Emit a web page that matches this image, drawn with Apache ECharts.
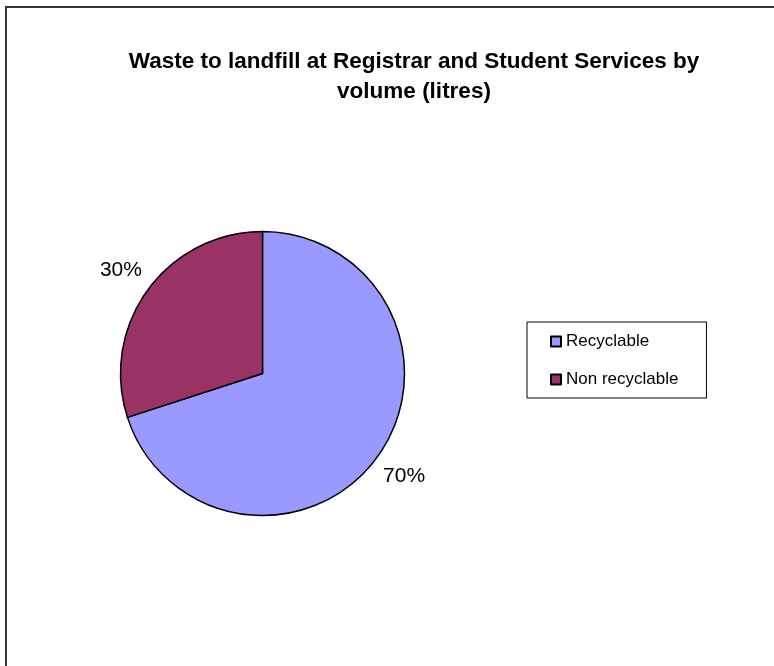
<!DOCTYPE html>
<html>
<head>
<meta charset="utf-8">
<script src="https://cdn.jsdelivr.net/npm/echarts@6/dist/echarts.min.js"></script>
<style>
  html, body { margin: 0; padding: 0; background: #fff; }
  #chart1 { width: 774px; height: 666px; }
</style>
</head>
<body>
<div id="chart1"></div>
<script>
var titleText = 'Waste to landfill at Registrar and Student Services by\nvolume (litres)';
var categories = ['Recyclable', 'Non recyclable'];
var values = [70, 30];
var colors = ['#9999FF', '#993366'];

var pieData = categories.map(function (name, i) {
    return { name: name, value: values[i], itemStyle: { color: colors[i] } };
});

var dom = document.getElementById('chart1');
var myChart = echarts.init(dom);

myChart.setOption({
    animation: false,
    title: {
        text: titleText,
        left: 414,
        top: 47,
        padding: 0,
        textAlign: 'center',
        textStyle: {
            fontFamily: 'Liberation Sans',
            fontSize: 22.5,
            fontWeight: 'bold',
            color: '#000',
            lineHeight: 30
        }
    },
    legend: {
        orient: 'vertical',
        left: 527,
        top: 322,
        padding: [11, 28, 10, 23],
        itemGap: 21,
        itemWidth: 10,
        itemHeight: 10,
        icon: 'rect',
        borderColor: '#000',
        borderWidth: 1,
        data: categories,
        textStyle: { fontFamily: 'Liberation Sans', fontSize: 17, color: '#000' }
    },
    graphic: [{
        type: 'rect',
        silent: true,
        shape: { x: 6, y: 7, width: 800, height: 700 },
        style: { fill: 'none', stroke: '#333', lineWidth: 2 }
    }],
    series: [{
        name: 'Waste',
        type: 'pie',
        center: [262.5, 373.5],
        radius: 142,
        startAngle: 90,
        clockwise: true,
        label: { show: false },
        labelLine: { show: false },
        emphasis: { disabled: true },
        itemStyle: { borderColor: '#000', borderWidth: 1.5 },
        data: pieData
    }, {
        // invisible ring, only used to place the percentage labels
        name: 'Labels',
        type: 'pie',
        center: [262.5, 373.5],
        radius: [169, 175],
        startAngle: 90,
        clockwise: true,
        silent: true,
        emphasis: { disabled: true },
        itemStyle: { color: 'rgba(0,0,0,0)', borderWidth: 0 },
        label: {
            show: true,
            position: 'inside',
            formatter: '{d}%',
            fontFamily: 'Liberation Sans',
            fontSize: 21,
            color: '#000'
        },
        labelLine: { show: false },
        data: pieData.map(function (d) {
            return { name: d.name, value: d.value };
        })
    }]
});
</script>
</body>
</html>
